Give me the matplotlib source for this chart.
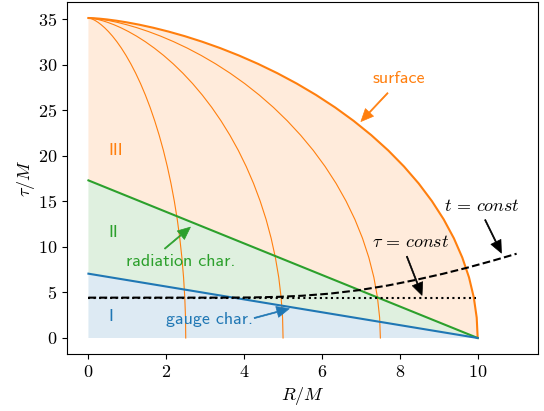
import numpy as np
import matplotlib
matplotlib.use('Agg')
import matplotlib.pyplot as plt

plt.rcParams['font.family'] = 'serif'
plt.rcParams['font.serif'] = ['cmr10']
plt.rcParams['mathtext.fontset'] = 'cm'
plt.rcParams['axes.formatter.use_mathtext'] = True
plt.rcParams['font.size'] = 13

# surface of the dust cloud (tau/M, R/M)
tau_surf = [0, 2.234, 4.457, 6.658, 8.826, 10.950, 13.021, 15.029, 16.964, 18.820,
            20.588, 22.262, 23.837, 25.307, 26.670, 27.923, 29.064, 30.094, 31.013,
            31.823, 32.527, 33.130, 33.636, 34.052, 34.385, 34.642, 34.832, 34.965,
            35.050, 35.098, 35.119, 35.124]
R_surf = [10, 9.975, 9.900, 9.777, 9.605, 9.388, 9.127, 8.824, 8.484, 8.108,
          7.702, 7.268, 6.812, 6.338, 5.850, 5.354, 4.854, 4.356, 3.864,
          3.384, 2.919, 2.476, 2.057, 1.669, 1.313, 0.994, 0.716, 0.480,
          0.289, 0.145, 0.050, 0]

# interior shells (same tau samples)
R_shell75 = [7.5, 7.481, 7.425, 7.333, 7.204, 7.041, 6.845, 6.618, 6.363, 6.081,
             5.777, 5.451, 5.109, 4.754, 4.388, 4.016, 3.641, 3.267, 2.898,
             2.538, 2.189, 1.857, 1.543, 1.252, 0.985, 0.746, 0.537, 0.360,
             0.217, 0.109, 0.038, 0]
R_shell50 = [5, 4.988, 4.950, 4.889, 4.803, 4.694, 4.564, 4.412, 4.242, 4.054,
             3.851, 3.634, 3.406, 3.169, 2.925, 2.677, 2.427, 2.178, 1.932,
             1.692, 1.460, 1.238, 1.029, 0.835, 0.657, 0.497, 0.358, 0.240,
             0.145, 0.073, 0.025, 0]
R_shell25 = [2.5, 2.494, 2.475, 2.444, 2.401, 2.347, 2.282, 2.206, 2.121, 2.027,
             1.926, 1.817, 1.703, 1.585, 1.463, 1.339, 1.214, 1.089, 0.966,
             0.846, 0.730, 0.619, 0.514, 0.417, 0.328, 0.249, 0.179, 0.120,
             0.072, 0.036, 0.013, 0]

# characteristics
R_char = [0, 10]
tau_rad = [17.3, 0]
tau_gauge = [7.06, 0]

# slices
R_tconst = [0, 3.5, 4.2, 4.9, 5.5, 6.2, 6.95, 7.7, 8.4, 9.1, 9.7, 10.4, 11.0]
tau_tconst = [4.43, 4.43, 4.45, 4.52, 4.64, 4.87, 5.25, 5.77, 6.37, 7.04, 7.68, 8.50, 9.25]
R_tauconst = [0, 9.95]
tau_tauconst = [4.43, 4.43]

fig = plt.figure(figsize=(5.44, 4.11), dpi=100)
ax = fig.add_axes([0.1232, 0.1387, 0.8658, 0.8564])

# regions
ax.fill([0, 10, 0], [0, 0, tau_gauge[0]], color='C0', alpha=0.15, lw=0)
ax.fill([0, 10, 0], [tau_gauge[0], 0, tau_rad[0]], color='C2', alpha=0.15, lw=0)
ax.fill([0] + R_surf, [tau_rad[0]] + tau_surf, color='C1', alpha=0.15, lw=0)

for rr in [R_shell25, R_shell50, R_shell75]:
    ax.plot(rr, tau_surf, color='C1', lw=0.8)
ax.plot(R_surf, tau_surf, color='C1', lw=1.5)
ax.plot(R_char, tau_rad, color='C2', lw=1.5)
ax.plot(R_char, tau_gauge, color='C0', lw=1.5)
ax.plot(R_tauconst, tau_tauconst, color='k', ls=':', lw=1.5)
ax.plot(R_tconst, tau_tconst, color='k', ls='--', lw=1.5)

sans = 'cmss10'
ax.text(0.5, 20.6, 'III', color='C1', family=sans, fontsize=13, ha='left', va='center')
ax.text(0.5, 11.6, 'II', color='C2', family=sans, fontsize=13, ha='left', va='center')
ax.text(0.5, 2.35, 'I', color='C0', family=sans, fontsize=13, ha='left', va='center')

ax.text(7.97, 28.5, 'surface', color='C1', family=sans, fontsize=13, ha='center', va='center')
ax.text(2.38, 7.9, 'radiation char.', color='C2', family=sans, fontsize=13, ha='center', va='baseline')
ax.text(3.11, 1.5, 'gauge char.', color='C0', family=sans, fontsize=13, ha='center', va='baseline')
ax.text(8.27, 10.0, r'$\tau\,=\,const$', color='k', fontsize=13, ha='center', va='baseline')
ax.text(10.12, 13.93, r'$t\,=\,const$', color='k', fontsize=13, ha='center', va='baseline')

def arrow(tip, tail, col):
    ax.annotate('', xy=tip, xytext=tail,
                arrowprops=dict(facecolor=col, edgecolor=col, width=0.8,
                                headwidth=8, headlength=9, lw=0.5, shrink=0))

arrow((7.0, 23.76), (7.69, 26.9), 'C1')
arrow((2.62, 12.17), (1.96, 9.80), 'C2')
arrow((5.16, 3.22), (4.26, 2.19), 'C0')
arrow((8.57, 4.68), (8.18, 8.96), 'k')
arrow((10.61, 9.32), (10.19, 12.98), 'k')

ax.set_xlim(-0.55, 11.55)
ax.set_ylim(-1.756, 36.88)
ax.set_xlabel(r'$R/M$')
ax.set_ylabel(r'$\tau/M$', labelpad=1)

fig.savefig('out.png', dpi=100)
